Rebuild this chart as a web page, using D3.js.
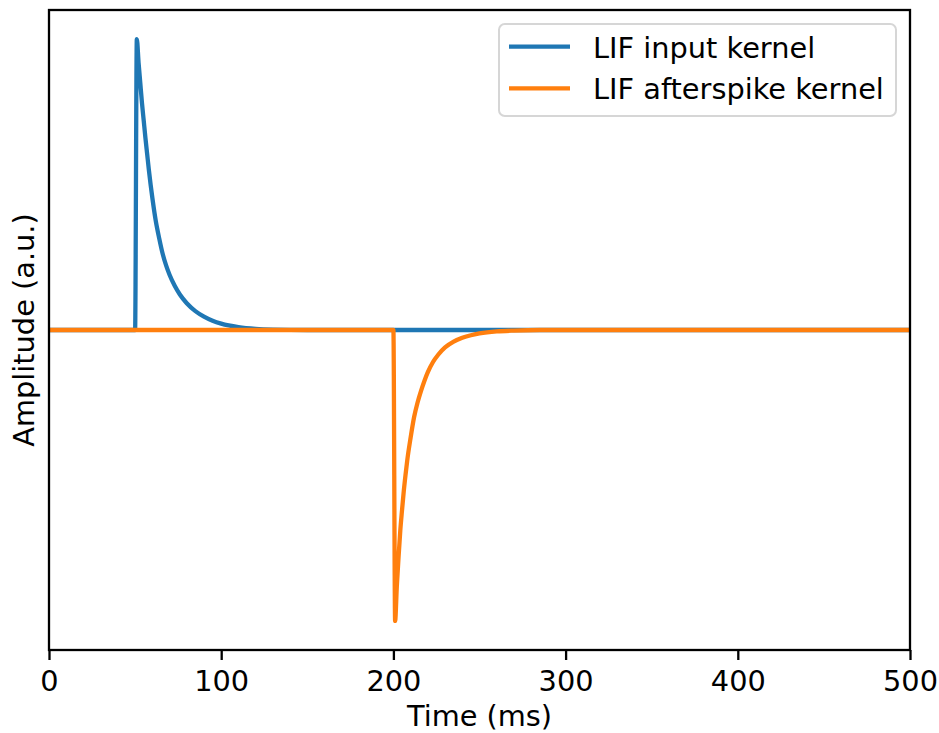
<!DOCTYPE html>
<html>
<head>
<meta charset="utf-8">
<script src="https://cdn.jsdelivr.net/npm/d3@7"></script>
<style>
  html, body { margin: 0; padding: 0; background: #ffffff; }
  svg { display: block; font-family: "DejaVu Sans", sans-serif; }
</style>
</head>
<body>
<svg id="chart" width="939" height="733"></svg>
<script>
// Time axis ticks (ms)
const xTicks = [0, 100, 200, 300, 400, 500];

// LIF input kernel: time (ms) and amplitude (a.u.)
const inputTime = [0, 50, 51, 52, 53, 54, 55, 56, 57, 58, 59, 60, 62, 64, 66, 68, 70, 73, 76, 80, 85, 90, 95, 100, 110, 120, 130, 150, 500];
const inputKernel = [0, 0, 1.00, 0.92, 0.85, 0.78, 0.72, 0.66, 0.605, 0.55, 0.50, 0.455, 0.375, 0.315, 0.262, 0.222, 0.19, 0.152, 0.122, 0.092, 0.065, 0.046, 0.032, 0.022, 0.010, 0.004, 0.0015, 0, 0];

// LIF afterspike kernel: time (ms) and amplitude (a.u.)
const afterTime = [0, 200, 201, 202, 203, 204, 205, 206, 207, 208, 210, 212, 214, 216, 218, 220, 223, 226, 230, 235, 240, 245, 250, 260, 270, 285, 500];
const afterKernel = [0, 0, -1.00, -0.88, -0.78, -0.69, -0.62, -0.555, -0.50, -0.45, -0.37, -0.30, -0.25, -0.21, -0.175, -0.145, -0.11, -0.085, -0.060, -0.040, -0.027, -0.018, -0.012, -0.005, -0.002, 0, 0];

const seriesNames = ["LIF input kernel", "LIF afterspike kernel"];
const seriesColors = ["#1f77b4", "#ff7f0e"];

const svg = d3.select("#chart");
const plotLeft = 49, plotRight = 910, plotTop = 10, plotBottom = 650;
const fontSize = 28.8;

const x = d3.scaleLinear().domain([0, 500]).range([plotLeft, plotRight]);
const y = d3.scaleLinear().domain([-1.1, 1.1]).range([plotBottom, plotTop]);

svg.append("defs").append("clipPath").attr("id", "plot-clip")
  .append("rect").attr("x", plotLeft).attr("y", plotTop)
  .attr("width", plotRight - plotLeft).attr("height", plotBottom - plotTop);

const line = d3.line()
  .x(d => x(d[0]))
  .y(d => y(d[1]))
  .curve(d3.curveMonotoneX);

const series = [
  d3.zip(inputTime, inputKernel),
  d3.zip(afterTime, afterKernel)
];

const plot = svg.append("g").attr("clip-path", "url(#plot-clip)");
series.forEach((pts, i) => {
  plot.append("path")
    .datum(pts)
    .attr("d", line)
    .attr("fill", "none")
    .attr("stroke", seriesColors[i])
    .attr("stroke-width", 4.3)
    .attr("stroke-linejoin", "round")
    .attr("stroke-linecap", "square");
});

// Bottom axis with ticks and labels
const xAxis = d3.axisBottom(x)
  .tickValues(xTicks)
  .tickFormat(d3.format("d"))
  .tickSizeInner(10)
  .tickSizeOuter(0)
  .tickPadding(9);

const gx = svg.append("g")
  .attr("transform", `translate(0,${plotBottom})`)
  .call(xAxis);
gx.select(".domain").remove();
gx.selectAll(".tick line").attr("stroke", "#000").attr("stroke-width", 2.3);
gx.selectAll(".tick text")
  .attr("font-family", "DejaVu Sans")
  .attr("font-size", fontSize)
  .attr("fill", "#000")
  .attr("dy", null)
  .attr("y", 40.5);

// Frame
svg.append("rect")
  .attr("x", plotLeft).attr("y", plotTop)
  .attr("width", plotRight - plotLeft).attr("height", plotBottom - plotTop)
  .attr("fill", "none")
  .attr("stroke", "#000")
  .attr("stroke-width", 2.3);

// Axis titles
svg.append("text")
  .attr("x", (plotLeft + plotRight) / 2)
  .attr("y", 726)
  .attr("text-anchor", "middle")
  .attr("font-size", fontSize)
  .attr("fill", "#000")
  .text("Time (ms)");

svg.append("text")
  .attr("transform", `translate(34,${(plotTop + plotBottom) / 2}) rotate(-90)`)
  .attr("text-anchor", "middle")
  .attr("font-size", fontSize)
  .attr("fill", "#000")
  .text("Amplitude (a.u.)");

// Legend
const legend = svg.append("g");
legend.append("rect")
  .attr("x", 499).attr("y", 24)
  .attr("width", 397).attr("height", 92)
  .attr("rx", 5.8).attr("ry", 5.8)
  .attr("fill", "rgba(255,255,255,0.8)")
  .attr("stroke", "#d6d6d6")
  .attr("stroke-width", 2);

const rowY = [46.7, 88.3];
seriesNames.forEach((name, i) => {
  legend.append("line")
    .attr("x1", 509).attr("x2", 570)
    .attr("y1", rowY[i]).attr("y2", rowY[i])
    .attr("stroke", seriesColors[i])
    .attr("stroke-width", 4.3);
  legend.append("text")
    .attr("x", 593)
    .attr("y", rowY[i] + 11)
    .attr("font-size", fontSize)
    .attr("fill", "#000")
    .text(name);
});
</script>
</body>
</html>
